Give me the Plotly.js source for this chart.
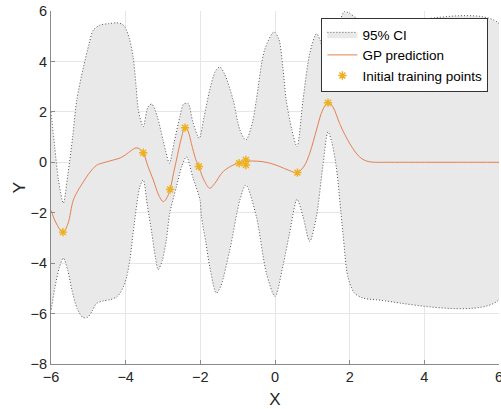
<!DOCTYPE html>
<html>
<head>
<meta charset="utf-8">
<script src="https://cdn.plot.ly/plotly-3.0.1.min.js"></script>
<style>html,body{margin:0;padding:0;background:#fff;}#chart{width:501px;height:409px;}</style>
</head>
<body>
<div id="chart"></div>
<script>
// Training points
const trainX = [-5.68, -3.53, -2.81, -2.41, -2.04, -0.96, -0.78, -0.78, 0.60, 1.42];
const trainY = [-2.77, 0.38, -1.08, 1.37, -0.17, -0.04, 0.09, -0.11, -0.41, 2.36];

// GP mean prediction
const meanX = [-6.0, -5.85, -5.68, -5.55, -5.40, -5.25, -5.13, -5.0, -4.78, -4.55, -4.33, -4.15, -4.0, -3.85, -3.72, -3.62, -3.53, -3.40, -3.26, -3.10, -2.99, -2.90, -2.81, -2.72, -2.64, -2.50, -2.41, -2.32, -2.24, -2.12, -2.04, -1.95, -1.88, -1.75, -1.62, -1.39, -1.12, -0.96, -0.78, -0.60, -0.32, -0.10, 0.13, 0.39, 0.60, 0.78, 0.93, 1.11, 1.24, 1.34, 1.42, 1.55, 1.73, 1.87, 2.0, 2.13, 2.26, 2.40, 2.53, 2.70, 3.0, 4.0, 5.0, 6.0];
const meanY = [-1.91, -2.45, -2.78, -2.45, -1.49, -1.05, -0.77, -0.48, -0.12, 0.0, 0.09, 0.17, 0.30, 0.47, 0.57, 0.52, 0.38, -0.17, -0.70, -1.35, -1.56, -1.42, -1.08, -0.45, 0.09, 1.01, 1.40, 1.20, 0.75, 0.10, -0.17, -0.55, -0.77, -1.03, -0.85, -0.37, -0.11, -0.02, 0.04, 0.05, 0.02, -0.05, -0.17, -0.33, -0.41, -0.15, 0.36, 1.28, 1.94, 2.25, 2.38, 2.20, 1.54, 1.10, 0.75, 0.45, 0.22, 0.08, 0.02, 0.0, 0.0, 0.0, 0.0, 0.0];

// 95% CI upper bound
const upperX = [-6.0, -5.9, -5.8, -5.67, -5.55, -5.42, -5.31, -5.13, -4.98, -4.87, -4.69, -4.45, -4.24, -4.10, -4.02, -3.90, -3.80, -3.72, -3.66, -3.53, -3.40, -3.30, -3.15, -3.0, -2.92, -2.83, -2.70, -2.55, -2.45, -2.33, -2.20, -2.03, -1.90, -1.75, -1.60, -1.48, -1.35, -1.12, -0.94, -0.78, -0.60, -0.50, -0.28, -0.03, 0.10, 0.21, 0.30, 0.45, 0.59, 0.75, 0.93, 1.11, 1.22, 1.32, 1.42, 1.55, 1.70, 1.86, 2.0, 2.2, 2.5, 3.0, 6.0];
const upperY = [2.0, 0.6, -0.7, -1.62, -0.5, 1.0, 2.47, 3.78, 4.7, 5.24, 5.44, 5.5, 5.53, 5.48, 5.37, 4.9, 4.18, 3.0, 2.07, 1.41, 2.2, 2.31, 1.8, 0.88, 0.4, -0.04, 0.8, 1.8, 2.3, 2.34, 1.6, 0.95, 1.8, 2.86, 3.6, 3.78, 3.5, 2.47, 1.28, 0.88, 1.6, 2.47, 4.45, 5.17, 4.9, 3.78, 2.47, 1.3, 0.62, 2.47, 4.31, 5.1, 4.8, 4.0, 3.45, 4.2, 5.4, 5.98, 5.9, 5.7, 5.55, 5.5, 5.5];

// 95% CI lower bound
const lowerX = [-6.0, -5.9, -5.78, -5.67, -5.55, -5.44, -5.30, -5.15, -5.02, -4.90, -4.78, -4.60, -4.42, -4.25, -4.15, -4.05, -3.97, -3.88, -3.80, -3.62, -3.53, -3.42, -3.30, -3.20, -3.13, -3.02, -2.91, -2.82, -2.64, -2.50, -2.37, -2.20, -2.01, -1.97, -1.85, -1.75, -1.57, -1.45, -1.21, -0.94, -0.78, -0.50, -0.23, 0.0, 0.21, 0.39, 0.59, 0.75, 0.93, 1.11, 1.28, 1.42, 1.52, 1.64, 1.82, 1.95, 2.13, 2.35, 2.7, 6.0];
const lowerY = [-5.91, -5.0, -4.2, -3.8, -4.3, -5.06, -5.8, -6.15, -6.15, -5.9, -5.6, -5.5, -5.45, -5.35, -5.19, -4.9, -4.53, -3.8, -2.81, -0.97, -0.70, -1.7, -2.81, -3.8, -4.26, -3.9, -3.08, -2.02, -0.97, -0.17, 0.22, -0.6, -1.49, -2.15, -3.2, -4.13, -5.19, -4.9, -3.47, -1.49, -0.9, -2.15, -4.4, -5.32, -4.13, -2.81, -1.47, -2.15, -3.14, -2.15, -0.17, 1.21, 0.8, -0.17, -2.81, -4.53, -5.19, -5.38, -5.45, -5.45];

const ciX = upperX.concat(lowerX.slice().reverse());
const ciY = upperY.concat(lowerY.slice().reverse());

const FONT = '"Liberation Sans", Arial, Helvetica, sans-serif';

const traces = [
  {
    x: ciX, y: ciY, type: 'scatter', mode: 'lines', name: '95% CI',
    fill: 'toself', fillcolor: '#e9e9e9',
    line: {color: '#555555', width: 1, dash: '1px,2px', shape: 'spline', smoothing: 0.8}
  },
  {
    x: meanX, y: meanY, type: 'scatter', mode: 'lines', name: 'GP prediction',
    line: {color: '#E5804F', width: 1, shape: 'spline', smoothing: 1}
  },
  {
    x: trainX, y: trainY, type: 'scatter', mode: 'markers', name: 'Initial training points',
    marker: {symbol: 'asterisk-open', size: 7, color: '#EDB120', line: {color: '#EDB120', width: 1.4}}
  }
];

const axisCommon = {
  showgrid: true, gridcolor: '#e6e6e6', gridwidth: 1,
  zeroline: false, showline: true, linecolor: '#8a8a8a', linewidth: 1,
  ticks: 'inside', ticklen: 4, tickcolor: '#8a8a8a', tickwidth: 1,
  tickfont: {family: FONT, size: 14.5, color: '#262626'},
  ticklabeloverflow: 'allow',
  dtick: 2, mirror: false, automargin: false
};

const layout = {
  width: 501, height: 409,
  margin: {l: 51, r: 1.5, t: 10.7, b: 44.7},
  paper_bgcolor: '#ffffff', plot_bgcolor: '#ffffff',
  showlegend: true,
  xaxis: Object.assign({}, axisCommon, {
    range: [-6, 6], tick0: -6,
    title: {text: 'X', font: {family: FONT, size: 17, color: '#262626'}, standoff: 9}
  }),
  yaxis: Object.assign({}, axisCommon, {
    range: [-8, 6], tick0: -8,
    title: {text: 'Y', font: {family: FONT, size: 17, color: '#262626'}, standoff: 0}
  }),
  legend: {
    x: 0.6036, y: 0.98, xanchor: 'left', yanchor: 'top',
    bgcolor: '#ffffff', bordercolor: '#333333', borderwidth: 1,
    font: {family: FONT, size: 13.5, color: '#000000'},
    tracegroupgap: 0, itemwidth: 30
  }
};

Plotly.newPlot('chart', traces, layout, {displayModeBar: false, staticPlot: true});
</script>
</body>
</html>
